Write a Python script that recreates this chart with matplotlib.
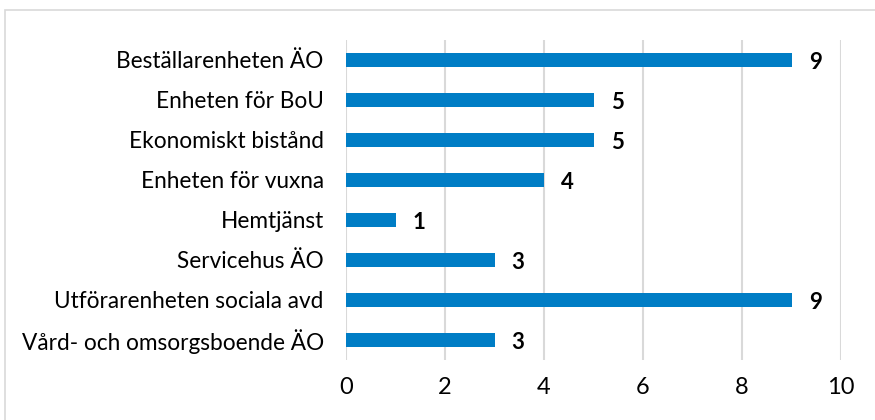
import matplotlib.pyplot as plt
from matplotlib.patches import Rectangle

categories = ['Beställarenheten ÄO', 'Enheten för BoU', 'Ekonomiskt bistånd',
              'Enheten för vuxna', 'Hemtjänst', 'Servicehus ÄO',
              'Utförarenheten sociala avd', 'Vård- och omsorgsboende ÄO']
values = [9, 5, 5, 4, 1, 3, 9, 3]
xticks = [0, 2, 4, 6, 8, 10]

plt.rcParams['font.family'] = ['Lato', 'DejaVu Sans']

fig = plt.figure(figsize=(8.75, 4.2), dpi=100)
ax = fig.add_axes([346/875, 1 - 360/420, 495/875, 320/420])

# light frame around the chart area (cut at right/bottom edge)
fig.patches.append(Rectangle((5/875, -0.1), 1.2, 1.1 - 10/420,
                             transform=fig.transFigure, fill=False,
                             edgecolor='#d9d9d9', linewidth=1.2))

y = list(range(len(categories)))
ax.barh(y, values, height=0.37, color='#007dc5', zorder=3)
for yi, v in zip(y, values):
    ax.annotate(str(v), (v, yi), xytext=(17, -2), textcoords='offset points',
                ha='center', va='center', fontsize=16, fontweight='bold',
                color='black')

ax.set_ylim(len(categories) - 0.5, -0.5)
ax.set_xlim(0, 10)
ax.set_xticks(xticks)
ax.set_yticks(y)
ax.set_yticklabels(categories, fontsize=16.3)
ax.tick_params(axis='x', labelsize=17, length=0, pad=12)
ax.tick_params(axis='y', length=0, pad=16)
ax.grid(axis='x', color='#d9d9d9', linewidth=1.5, zorder=0)
for s in ax.spines.values():
    s.set_visible(False)

fig.savefig('out.png', dpi=100)
